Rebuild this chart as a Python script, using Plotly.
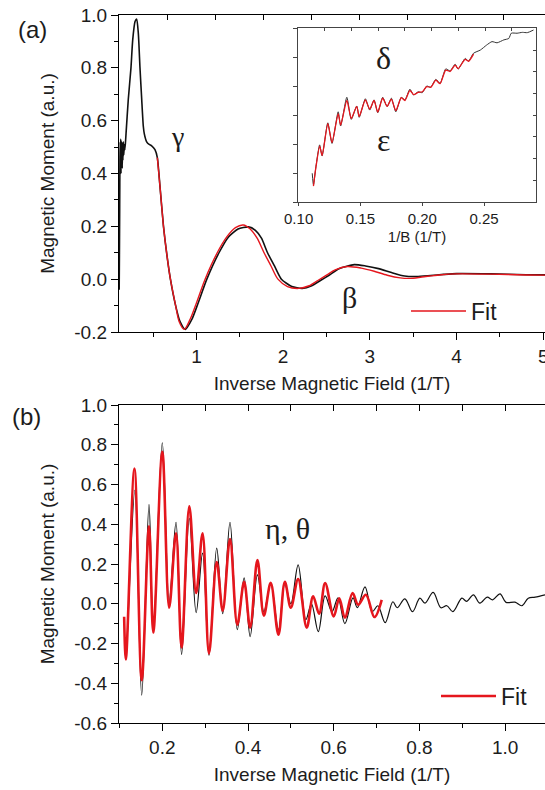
import plotly.graph_objects as go

# ---------------- data: panel (a) ----------------
A_BLACK_X = [0.109, 0.112, 0.115, 0.118, 0.121, 0.124, 0.127, 0.130, 0.133, 0.136, 0.140, 0.144,
             0.148, 0.152, 0.157, 0.162, 0.168, 0.175, 0.188, 0.214, 0.245, 0.265, 0.292, 0.311,
             0.330, 0.349, 0.369, 0.387, 0.399, 0.426, 0.455, 0.484, 0.522, 0.549, 0.580, 0.620,
             0.660, 0.700, 0.760, 0.810, 0.870, 0.950, 1.020, 1.120, 1.260, 1.370, 1.480, 1.600,
             1.680, 1.750, 1.820, 1.900, 1.980, 2.100, 2.220, 2.330, 2.430, 2.530, 2.650, 2.820,
             2.950, 3.100, 3.250, 3.400, 3.540, 3.700, 3.850, 4.000, 4.400, 4.800, 5.050]
A_BLACK_Y = [-0.04, 0.10, 0.28, 0.45, 0.52, 0.43, 0.53, 0.40, 0.51, 0.44, 0.52, 0.42,
             0.50, 0.45, 0.52, 0.47, 0.51, 0.49, 0.55, 0.68, 0.80, 0.905, 0.975, 0.985,
             0.93, 0.80, 0.68, 0.58, 0.55, 0.52, 0.51, 0.505, 0.49, 0.46, 0.35, 0.20,
             0.09, 0.00, -0.10, -0.16, -0.19, -0.15, -0.09, 0.00, 0.10, 0.16, 0.19, 0.198,
             0.185, 0.155, 0.10, 0.05, 0.00, -0.028, -0.035, -0.025, -0.005, 0.015, 0.04, 0.055,
             0.05, 0.04, 0.025, 0.012, 0.01, 0.014, 0.018, 0.021, 0.02, 0.017, 0.016]

A_FIT_X = [0.549, 0.580, 0.620, 0.660, 0.700, 0.760, 0.800, 0.860, 0.930, 1.000, 1.100, 1.240,
           1.350, 1.450, 1.540, 1.620, 1.700, 1.780, 1.860, 1.940, 2.050, 2.180, 2.300, 2.400,
           2.500, 2.600, 2.740, 2.900, 3.050, 3.200, 3.350, 3.460, 3.600, 3.800, 4.000, 4.400,
           4.800, 5.050]
A_FIT_Y = [0.46, 0.35, 0.20, 0.09, 0.00, -0.10, -0.16, -0.19, -0.15, -0.09, 0.00, 0.10,
           0.16, 0.195, 0.205, 0.19, 0.155, 0.10, 0.05, 0.00, -0.028, -0.035, -0.025, -0.005,
           0.015, 0.035, 0.048, 0.042, 0.03, 0.015, 0.005, 0.003, 0.008, 0.016, 0.02, 0.019,
           0.016, 0.015]

# ---------------- data: inset ----------------
IN_BLACK_X = [0.111, 0.112, 0.114, 0.117, 0.119, 0.1236, 0.127, 0.132, 0.134, 0.139, 0.1426, 0.147,
              0.149, 0.154, 0.1575, 0.161, 0.164, 0.168, 0.1716, 0.175, 0.1786, 0.183, 0.186, 0.190,
              0.193, 0.1967, 0.200, 0.2036, 0.2068, 0.211, 0.2144, 0.219, 0.2225, 0.2266, 0.229,
              0.2347, 0.2374, 0.2415, 0.247, 0.252, 0.2564, 0.2605, 0.266, 0.270, 0.272, 0.2767,
              0.281, 0.285, 0.290]
IN_BLACK_Y = [0.99, 0.59, 1.22, 1.97, 1.59, 2.73, 2.02, 3.11, 2.62, 3.61, 2.85, 3.31,
              2.92, 3.56, 3.17, 3.52, 3.08, 3.61, 3.29, 3.58, 3.11, 3.61, 3.52, 3.89,
              3.69, 3.80, 3.77, 4.00, 3.96, 4.23, 4.09, 4.59, 4.52, 4.75, 4.58,
              4.95, 4.86, 5.13, 5.24, 5.41, 5.53, 5.49, 5.59, 5.64, 5.82, 5.82,
              5.85, 5.84, 5.93]

IN_FIT_X = [0.112, 0.114, 0.117, 0.119, 0.1236, 0.127, 0.132, 0.134, 0.139, 0.1426, 0.147, 0.149,
            0.154, 0.1575, 0.161, 0.164, 0.168, 0.1716, 0.175, 0.1786, 0.183, 0.186, 0.190, 0.193,
            0.1967, 0.200, 0.2036, 0.2068, 0.211, 0.2144, 0.219, 0.2225, 0.2266, 0.229, 0.2347,
            0.2374, 0.2415]
IN_FIT_Y = [0.55, 1.20, 1.93, 1.60, 2.70, 2.05, 3.05, 2.65, 3.50, 2.88, 3.30, 2.95,
            3.52, 3.20, 3.50, 3.10, 3.58, 3.30, 3.55, 3.15, 3.60, 3.50, 3.85, 3.70,
            3.78, 3.80, 3.98, 3.95, 4.20, 4.08, 4.55, 4.50, 4.72, 4.60, 4.92,
            4.85, 5.10]

# ---------------- data: panel (b) ----------------
B_BLACK_X = [0.113, 0.115, 0.136, 0.152, 0.169, 0.179, 0.200, 0.216, 0.232, 0.245, 0.263, 0.279,
             0.294, 0.309, 0.327, 0.341, 0.358, 0.375, 0.391, 0.405, 0.422, 0.437, 0.453, 0.471,
             0.486, 0.500, 0.517, 0.535, 0.548, 0.564, 0.580, 0.596, 0.610, 0.626, 0.645, 0.655,
             0.673, 0.690, 0.703, 0.720, 0.738, 0.748, 0.766, 0.784, 0.801, 0.813, 0.832, 0.850,
             0.864, 0.878, 0.899, 0.910, 0.926, 0.941, 0.958, 0.971, 0.988, 1.002, 1.023, 1.039,
             1.054, 1.070, 1.093]
B_BLACK_Y = [-0.20, -0.28, 0.57, -0.46, 0.50, -0.14, 0.81, 0.01, 0.41, -0.255, 0.43, -0.045,
             0.255, -0.26, 0.28, -0.05, 0.41, -0.13, 0.13, -0.165, 0.145, -0.04, 0.10, -0.13,
             0.10, 0.00, 0.196, -0.08, 0.00, -0.14, 0.04, -0.04, 0.03, -0.10, 0.03, -0.02,
             0.085, -0.04, -0.01, -0.095, 0.01, -0.02, 0.025, -0.04, 0.028, 0.003, 0.057, -0.02,
             -0.01, -0.04, 0.028, 0.012, 0.045, 0.003, 0.033, 0.02, 0.05, 0.007, 0.008, -0.01,
             0.028, 0.033, 0.045]

B_FIT_X = [0.111, 0.115, 0.135, 0.152, 0.169, 0.179, 0.200, 0.216, 0.232, 0.245, 0.263, 0.279,
           0.294, 0.309, 0.327, 0.341, 0.358, 0.375, 0.391, 0.405, 0.422, 0.437, 0.453, 0.471,
           0.486, 0.500, 0.517, 0.537, 0.552, 0.566, 0.580, 0.600, 0.613, 0.626, 0.644, 0.657,
           0.675, 0.695, 0.712]
B_FIT_Y = [-0.065, -0.28, 0.68, -0.385, 0.39, -0.145, 0.765, -0.02, 0.355, -0.22, 0.49, 0.054,
           0.355, -0.25, 0.21, -0.035, 0.325, -0.105, 0.11, -0.12, 0.22, -0.06, 0.105, -0.156,
           0.11, -0.02, 0.124, -0.12, 0.037, -0.05, 0.104, -0.064, 0.028, -0.07, 0.054, -0.005,
           0.045, -0.067, 0.02]

# ---------------- tick labels ----------------
A_XTICKS = [1, 2, 3, 4, 5]
A_XTICKTEXT = ["1", "2", "3", "4", "5"]
A_YTICKS = [-0.2, 0.0, 0.2, 0.4, 0.6, 0.8, 1.0]
A_YTICKTEXT = ["-0.2", "0.0", "0.2", "0.4", "0.6", "0.8", "1.0"]
IN_XTICKS = [0.10, 0.15, 0.20, 0.25]
IN_XTICKTEXT = ["0.10", "0.15", "0.20", "0.25"]
B_XTICKS = [0.2, 0.4, 0.6, 0.8, 1.0]
B_XTICKTEXT = ["0.2", "0.4", "0.6", "0.8", "1.0"]
B_YTICKS = [-0.6, -0.4, -0.2, 0.0, 0.2, 0.4, 0.6, 0.8, 1.0]
B_YTICKTEXT = ["-0.6", "-0.4", "-0.2", "0.0", "0.2", "0.4", "0.6", "0.8", "1.0"]

# ---------------- style ----------------
W, H = 545, 790
RED = "#e5161d"
BLACK = "#111111"
SANS = "Liberation Sans"
SERIF = "Liberation Serif"
TXT = "#1c1c1c"


def px_dom_x(a, b):
    return [a / W, b / W]


def px_dom_y(top, bottom):
    return [1 - bottom / H, 1 - top / H]


fig = go.Figure()

fig.add_trace(go.Scatter(x=A_BLACK_X, y=A_BLACK_Y, mode="lines", xaxis="x", yaxis="y",
                         line=dict(color=BLACK, width=1.6, shape="spline", smoothing=0.6),
                         showlegend=False, hoverinfo="skip"))
fig.add_trace(go.Scatter(x=A_FIT_X, y=A_FIT_Y, mode="lines", xaxis="x", yaxis="y", name="Fit",
                         line=dict(color=RED, width=1.4, shape="spline", smoothing=0.8),
                         showlegend=True, legend="legend", hoverinfo="skip"))
fig.add_trace(go.Scatter(x=IN_BLACK_X, y=IN_BLACK_Y, mode="lines", xaxis="x5", yaxis="y5",
                         line=dict(color="#333333", width=1.0, shape="spline", smoothing=0.6),
                         showlegend=False, hoverinfo="skip"))
fig.add_trace(go.Scatter(x=IN_FIT_X, y=IN_FIT_Y, mode="lines", xaxis="x5", yaxis="y5",
                         line=dict(color=RED, width=1.3, shape="spline", smoothing=0.6),
                         showlegend=False, hoverinfo="skip"))
fig.add_trace(go.Scatter(x=B_BLACK_X, y=B_BLACK_Y, mode="lines", xaxis="x2", yaxis="y2",
                         line=dict(color=BLACK, width=1.2, shape="spline", smoothing=1.0),
                         showlegend=False, hoverinfo="skip"))
fig.add_trace(go.Scatter(x=B_FIT_X, y=B_FIT_Y, mode="lines", xaxis="x2", yaxis="y2", name="Fit",
                         line=dict(color=RED, width=2.6, shape="spline", smoothing=1.0),
                         showlegend=True, legend="legend2", hoverinfo="skip"))
# empty traces that just register the decorative overlay axes
for xa, ya in [("x3", "y"), ("x4", "y2"), ("x6", "y5"), ("x5", "y6")]:
    fig.add_trace(go.Scatter(x=[], y=[], xaxis=xa, yaxis=ya, showlegend=False, hoverinfo="skip"))

tickfont = dict(family=SANS, size=19, color=TXT)
titlefont = dict(family=SANS, size=19, color=TXT)
axis_common = dict(showline=True, linecolor="black", linewidth=1.3, showgrid=False,
                   zeroline=False, ticks="outside", tickcolor="black", tickwidth=1.2,
                   ticklen=7, tickfont=tickfont, automargin=False, ticklabeloverflow="allow")
deco = dict(showticklabels=False, showgrid=False, zeroline=False, automargin=False)

fig.update_layout(
    template="none",
    width=W, height=H, margin=dict(l=0, r=0, t=0, b=0, pad=0, autoexpand=False),
    paper_bgcolor="white", plot_bgcolor="white",
    font=dict(family=SANS, color=TXT),
    # panel (a)
    xaxis=dict(domain=px_dom_x(119, 545), anchor="y", range=[0.107, 5.02],
               tickvals=A_XTICKS, ticktext=A_XTICKTEXT,
               minor=dict(dtick=0.5, tick0=0, ticklen=4, ticks="outside", tickcolor="black"),
               title=dict(text="Inverse Magnetic Field (1/T)", font=titlefont, standoff=10),
               **axis_common),
    yaxis=dict(domain=px_dom_y(15, 332), anchor="x", range=[-0.2, 1.0],
               tickvals=A_YTICKS, ticktext=A_YTICKTEXT,
               minor=dict(dtick=0.1, tick0=0, ticklen=4, ticks="outside", tickcolor="black"),
               title=dict(text="Magnetic Moment (a.u.)", font=titlefont, standoff=14),
               **axis_common),
    xaxis3=dict(overlaying="x", anchor="y", side="top", range=[0, 426 / 48], dtick=1, tick0=0,
                showline=True, linecolor="black", linewidth=1.3,
                ticks="inside", ticklen=5, tickcolor="black", **deco),
    # inset
    xaxis5=dict(domain=px_dom_x(298, 536), anchor="y5", range=[0.0995, 0.292],
                tickvals=IN_XTICKS, ticktext=IN_XTICKTEXT, showline=True, mirror=True,
                linecolor="#444444", linewidth=1.2, ticks="outside", ticklen=3, tickcolor="#444444",
                showgrid=False, zeroline=False, automargin=False,
                tickfont=dict(family=SANS, size=15, color=TXT),
                title=dict(text="1/B (1/T)", font=dict(family=SANS, size=15, color=TXT), standoff=5)),
    yaxis5=dict(domain=px_dom_y(28, 202), anchor="x5", range=[0, 6], dtick=1, tick0=0,
                showline=True, mirror=True, linecolor="#444444",
                linewidth=1.2, ticks="outside", ticklen=4, tickcolor="#444444", **deco),
    xaxis6=dict(overlaying="x5", anchor="y5", side="top", range=[0, 237.4 / 26.67], dtick=1,
                tick0=0, showline=False, ticks="inside", ticklen=3, tickcolor="#444444", **deco),
    yaxis6=dict(overlaying="y5", anchor="x5", side="right", range=[0, 174 / 21.7], dtick=1,
                tick0=0, showline=False, ticks="inside", ticklen=3, tickcolor="#444444", **deco),
    # panel (b)
    xaxis2=dict(domain=px_dom_x(119, 545), anchor="y2", range=[0.099, 1.093],
                tickvals=B_XTICKS, ticktext=B_XTICKTEXT,
                minor=dict(dtick=0.1, tick0=0, ticklen=4, ticks="outside", tickcolor="black"),
                title=dict(text="Inverse Magnetic Field (1/T)", font=titlefont, standoff=10),
                **axis_common),
    yaxis2=dict(domain=px_dom_y(405, 723), anchor="x2", range=[-0.6, 1.0],
                tickvals=B_YTICKS, ticktext=B_YTICKTEXT,
                minor=dict(dtick=0.1, tick0=0, ticklen=4, ticks="outside", tickcolor="black"),
                title=dict(text="Magnetic Moment (a.u.)", font=titlefont, standoff=14),
                **axis_common),
    xaxis4=dict(overlaying="x2", anchor="y2", side="top", range=[0.099, 1.093], dtick=0.1,
                tick0=0, showline=True, linecolor="black", linewidth=1.3,
                ticks="inside", ticklen=6, tickcolor="black", **deco),
    legend=dict(x=406 / W, y=1 - 311 / H, xanchor="left", yanchor="middle", itemwidth=55,
                bgcolor="rgba(0,0,0,0)", font=dict(family=SANS, size=23, color=TXT)),
    legend2=dict(x=436 / W, y=1 - 696 / H, xanchor="left", yanchor="middle", itemwidth=55,
                 bgcolor="rgba(0,0,0,0)", font=dict(family=SANS, size=23, color=TXT)),
)

annots = [
    dict(text="(a)", xref="paper", yref="paper", x=32 / W, y=1 - 30 / H,
         font=dict(family=SANS, size=24, color=TXT)),
    dict(text="(b)", xref="paper", yref="paper", x=26 / W, y=1 - 416 / H,
         font=dict(family=SANS, size=24, color=TXT)),
    dict(text="γ", xref="x", yref="y", x=0.787, y=0.54, font=dict(family=SERIF, size=28, color=TXT)),
    dict(text="β", xref="x", yref="y", x=2.77, y=-0.07, font=dict(family=SERIF, size=30, color=TXT)),
    dict(text="δ", xref="x5", yref="y5", x=0.1684, y=4.97, font=dict(family=SERIF, size=32, color=TXT)),
    dict(text="ε", xref="x5", yref="y5", x=0.1684, y=2.14, font=dict(family=SERIF, size=32, color=TXT)),
    dict(text="η, θ", xref="x2", yref="y2", x=0.491, y=0.38, font=dict(family=SERIF, size=30, color=TXT)),
]
for a in annots:
    a["showarrow"] = False
    a["xanchor"] = "center"
    a["yanchor"] = "middle"
fig.update_layout(annotations=annots)

fig.write_html("out.html", config={"displayModeBar": False},
               post_script="document.body.style.margin='0';document.body.style.overflow='hidden';")
